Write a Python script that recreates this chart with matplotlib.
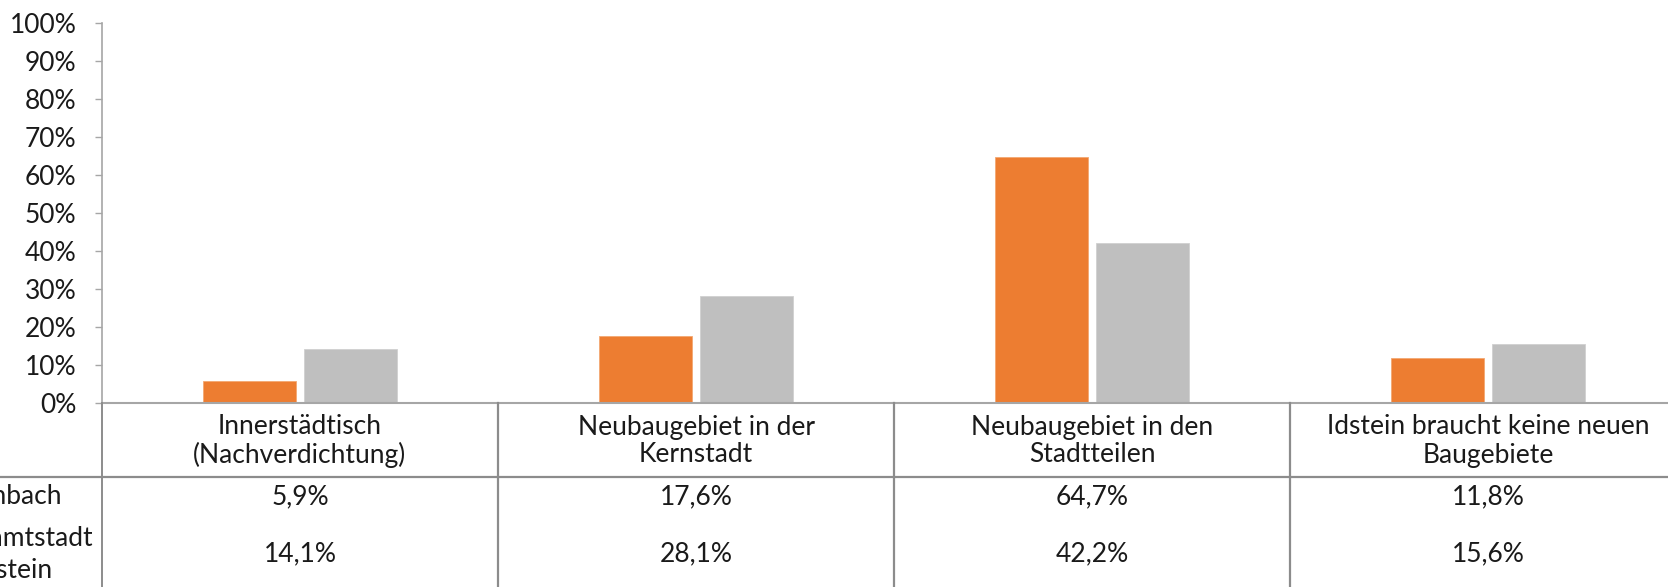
import matplotlib
matplotlib.use("Agg")
import matplotlib.pyplot as plt
import numpy as np

# ---- data ----
categories = ["Innerstädtisch\n(Nachverdichtung)",
              "Neubaugebiet in der\nKernstadt",
              "Neubaugebiet in den\nStadtteilen",
              "Idstein braucht keine neuen\nBaugebiete"]
series_names = ["Ehrenbach", "Gesamtstadt\nIdstein"]
ehrenbach = [5.9, 17.6, 64.7, 11.8]
gesamtstadt = [14.1, 28.1, 42.2, 15.6]
yticks = [0, 10, 20, 30, 40, 50, 60, 70, 80, 90, 100]

ORANGE = "#ED7D31"
GREY = "#BFBFBF"
TEXT = "#1A1A1A"
AXIS = "#A6A6A6"
GRID = "#8C8C8C"
FONT = "Lato"
FS = 19

W, H = 1668, 587
fig = plt.figure(figsize=(W / 100, H / 100), dpi=100)

x0 = 102          # y-axis pixel
cw = 396          # category width in px
y100, y0 = 23, 403

ax = fig.add_axes([x0 / W, (H - y0) / H, 4 * cw / W, (y0 - y100) / H])
x = np.arange(len(categories))
bw = 0.234
off = 0.128
ax.bar(x - off, ehrenbach, bw, color=ORANGE, edgecolor="#F3A873", linewidth=0.6)
ax.bar(x + off, gesamtstadt, bw, color=GREY, edgecolor="#D0D0D0", linewidth=0.6)
ax.set_xlim(-0.5, 3.5)
ax.set_ylim(0, 100)
ax.set_yticks(yticks)
ax.set_yticklabels([f"{t}%" for t in yticks], fontsize=FS, family=FONT,
                   color=TEXT)
ax.tick_params(axis="y", length=5, width=1.0, color=AXIS, pad=13.5)
ax.set_xticks([])
for s in ["top", "right"]:
    ax.spines[s].set_visible(False)
ax.spines["left"].set_color(AXIS)
ax.spines["bottom"].set_color(AXIS)
ax.spines["left"].set_linewidth(1.2)
ax.spines["bottom"].set_linewidth(1.5)

# ---- data table ----
tb = fig.add_axes([x0 / W, 0, 4 * cw / W, (H - y0) / H])
tb.set_xlim(-0.5, 3.5)
tb.set_ylim(H, y0)   # pixel-like y, top = 403
tb.axis("off")

left_x = -0.5 - x0 / cw
tb.plot([left_x, 3.5], [477, 477], color=GRID, lw=1.6, clip_on=False)
for i in range(len(categories)):
    tb.plot([i - 0.5, i - 0.5], [y0, H], color=GRID, lw=1.6 if i else 1.4, clip_on=False)
    tb.text(i, 441, categories[i], ha="center", va="center", fontsize=FS,
            family=FONT, color=TEXT, linespacing=1.15)
    tb.text(i, 497, f"{ehrenbach[i]:.1f}%".replace(".", ","), ha="center",
            va="center", fontsize=FS, family=FONT, color=TEXT)
    tb.text(i, 554, f"{gesamtstadt[i]:.1f}%".replace(".", ","), ha="center",
            va="center", fontsize=FS, family=FONT, color=TEXT)

# row labels (cut off at the left edge, as in the original)
fig.text(62 / W, 1 - 497 / H, series_names[0], ha="right", va="center",
         fontsize=FS, family=FONT, color=TEXT)
line_pos = [(93, 538), (53, 571)]
for line, (px, py) in zip(series_names[1].split("\n"), line_pos):
    fig.text(px / W, 1 - py / H, line, ha="right", va="center",
             fontsize=FS, family=FONT, color=TEXT)

fig.savefig("out.png", dpi=100)
